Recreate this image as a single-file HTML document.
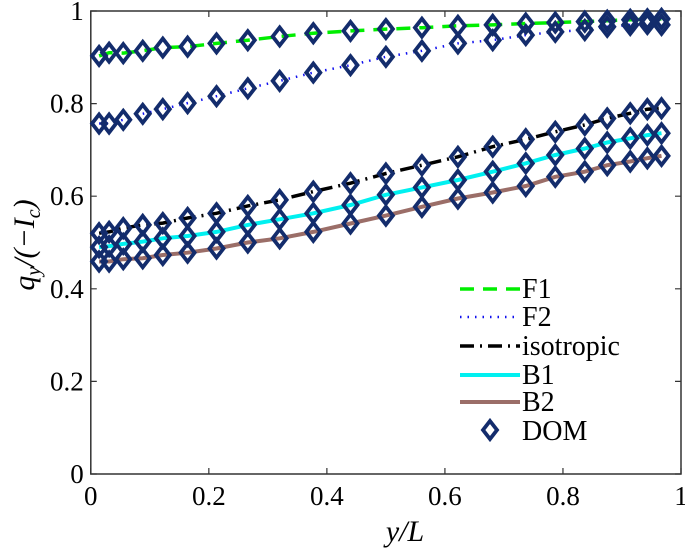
<!DOCTYPE html>
<html><head><meta charset="utf-8"><style>
body{margin:0;background:#fff}
svg{display:block}
svg text{font-family:"Liberation Serif","DejaVu Serif","Times New Roman",serif !important}
</style></head><body>
<svg id="chart" width="685" height="552" viewBox="0 0 685 552" xmlns="http://www.w3.org/2000/svg">
<g id="plot"></g>
</svg>
<script>
const xs=[0.014,0.031,0.055,0.088,0.122,0.164,0.213,0.266,0.320,0.377,0.440,0.500,0.561,0.622,0.681,0.737,0.787,0.837,0.875,0.914,0.943,0.967];
const f1=[0.903,0.910,0.909,0.914,0.921,0.923,0.930,0.937,0.945,0.952,0.957,0.961,0.964,0.968,0.970,0.973,0.975,0.977,0.979,0.981,0.982,0.983];
const f2=[0.757,0.757,0.765,0.778,0.788,0.801,0.816,0.833,0.849,0.867,0.883,0.901,0.914,0.930,0.937,0.948,0.955,0.959,0.966,0.970,0.972,0.970];
const iso=[0.520,0.523,0.531,0.538,0.542,0.553,0.563,0.579,0.592,0.610,0.628,0.649,0.667,0.685,0.707,0.723,0.739,0.754,0.768,0.779,0.788,0.790];
const b1=[0.490,0.492,0.497,0.502,0.509,0.514,0.523,0.538,0.550,0.563,0.581,0.603,0.619,0.635,0.653,0.671,0.689,0.703,0.716,0.725,0.732,0.736];
const b2=[0.459,0.459,0.464,0.466,0.473,0.478,0.487,0.500,0.509,0.523,0.541,0.558,0.577,0.595,0.608,0.622,0.642,0.653,0.667,0.675,0.682,0.687];
const xTicks=[0,0.2,0.4,0.6,0.8,1];
const xTickLabels=["0","0.2","0.4","0.6","0.8","1"];
const yTicks=[0,0.2,0.4,0.6,0.8,1];
const yTickLabels=["0","0.2","0.4","0.6","0.8","1"];

const L=90.8,R=681,T=11,B=474;
const sx=v=>L+v*(R-L);
const sy=v=>B-v*(B-T);
const NS="http://www.w3.org/2000/svg";
const g=document.getElementById('plot');
function mk(tag,attrs,parent){const e=document.createElementNS(NS,tag);for(const k in attrs)e.setAttribute(k,attrs[k]);if(tag==='text')e.style.fontFamily='"Liberation Serif","DejaVu Serif","Times New Roman",serif';(parent||g).appendChild(e);return e;}

const box=mk('rect',{x:L,y:T,width:R-L,height:B-T,fill:'none',stroke:'#333','stroke-width':1.5});


xTicks.forEach((t,i)=>{
  const x=sx(t);
  const tk=mk('path',{d:`M${x} ${B}V${B-6}M${x} ${T}V${T+6}`,stroke:'#333','stroke-width':1.2});
  
  
  const lb=mk('text',{x:x,y:B+31,'font-size':27,'text-anchor':'middle',fill:'#000'});
  lb.textContent=xTickLabels[i];
  
  
});
yTicks.forEach((t,i)=>{
  const y=sy(t);
  const tk=mk('path',{d:`M${L} ${y}H${L+6}M${R} ${y}H${R-6}`,stroke:'#333','stroke-width':1.2});
  
  
  const lb=mk('text',{x:L-7,y:y+9,'font-size':27,'text-anchor':'end',fill:'#000'});
  lb.textContent=yTickLabels[i];
  
  
});

function line(vals,style,name){
  const d=vals.map((v,i)=>(i?'L':'M')+sx(xs[i]).toFixed(1)+' '+sy(v).toFixed(1)).join('');
  const p=mk('path',Object.assign({d:d,fill:'none'},style));
  
  
}
const styles={
 f1:{stroke:'#00ee00','stroke-width':3.5,'stroke-dasharray':'14 9'},
 f2:{stroke:'#1010ee','stroke-width':2.5,'stroke-dasharray':'1.5 6'},
 iso:{stroke:'#000','stroke-width':3.5,'stroke-dasharray':'14 6 2 6'},
 b1:{stroke:'#00f0f0','stroke-width':4},
 b2:{stroke:'#9b6e68','stroke-width':4}
};
line(f1,styles.f1,'f1-line');
line(f2,styles.f2,'f2-line');
line(iso,styles.iso,'isotropic-line');
line(b1,styles.b1,'b1-line');
line(b2,styles.b2,'b2-line');

function diamond(x,y,name){
  const p=mk('path',{d:`M${x} ${y-9}L${x+7} ${y}L${x} ${y+9}L${x-7} ${y}Z`,fill:'none',stroke:'#132c6c','stroke-width':3.8,'stroke-linejoin':'miter'});
  
  
}
[[f1,'dom-f1'],[f2,'dom-f2'],[iso,'dom-isotropic'],[b1,'dom-b1'],[b2,'dom-b2']].forEach(([arr,n])=>{
  arr.forEach((v,i)=>diamond(sx(xs[i]),sy(v),n+'-point'));
});

const legend=[['F1','f1',298],['F2','f2',326],['isotropic','iso',355],['B1','b1',384],['B2','b2',411]];
legend.forEach(([lab,k,y])=>{
  const ln=mk('path',Object.assign({d:`M460 ${y-9}H520`,fill:'none'},styles[k]));
  
  
  const t=mk('text',{x:522,y:y,'font-size':28,fill:'#000'});
  t.textContent=lab;
  
  
});
diamond(490,430,'legend-swatch-dom');
const td=mk('text',{x:522,y:440,'font-size':28,fill:'#000'});
td.textContent='DOM';



const xt=mk('text',{x:405,y:541,'font-size':30,'text-anchor':'middle','font-style':'italic',fill:'#000'});
xt.textContent='y/L';


const yt=mk('text',{x:0,y:0,'font-size':30,'text-anchor':'middle','font-style':'italic',fill:'#000',transform:'translate(34,245) rotate(-90)'});
yt.innerHTML='q<tspan font-size="20" dy="6">y</tspan><tspan dy="-6">/(−I</tspan><tspan font-size="20" dy="6">c</tspan><tspan dy="-6">)</tspan>';


</script>
</body></html>
